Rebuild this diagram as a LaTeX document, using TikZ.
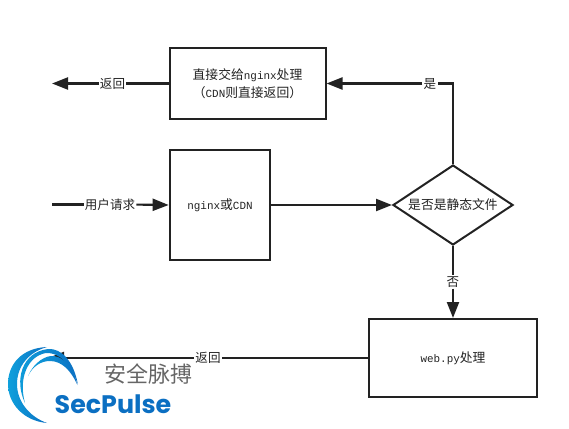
\documentclass[tikz,border=0pt]{standalone}
\usepackage{fontspec}
\setmainfont{Liberation Mono}
\newfontfamily\cjk{Noto Sans CJK SC}
\newfontfamily\logofont{Poppins}
\usetikzlibrary{arrows.meta,shapes.geometric,calc}
\definecolor{ink}{HTML}{222222}
\definecolor{logoblue}{HTML}{0B6FC2}
\definecolor{logocyan}{HTML}{0FA0DC}
\newcommand{\zh}[1]{{\cjk\fontsize{9.6}{12}\selectfont #1}}
\tikzset{
  flowbox/.style={draw=ink,line width=1.5pt,fill=white,inner sep=0pt,font=\fontsize{8.2}{13.5}\selectfont,text=ink,align=center},
  lbl/.style={fill=white,inner sep=0.8pt,font=\cjk\fontsize{9.4}{10}\selectfont,text=ink},
  link/.style={draw=ink,line width=1.6pt},
  heavylink/.style={draw=ink,line width=2.4pt},
  arrowed/.style={link,-{Triangle[length=12pt,width=9pt,fill=ink]}}
}
\begin{document}
\begin{tikzpicture}[x=0.75pt,y=-0.75pt]
\useasboundingbox (0,0) rectangle (569,429);
\node[flowbox,minimum width=117pt,minimum height=53.5pt] (direct) at (247.5,83.5) {\zh{直接交给}nginx\zh{处理}\\\zh{（}CDN\zh{则直接返回）}};
\node[flowbox,minimum width=75.5pt,minimum height=83pt] (entry) at (220,205) {nginx\zh{或}CDN};
\node[flowbox,diamond,aspect=1.5,minimum width=90pt,minimum height=60pt] (check) at (453,205) {\zh{是否是静态文件}};
\node[flowbox,minimum width=126.5pt,minimum height=58.5pt] (web) at (453,358) {web.py\zh{处理}};
\coordinate (retA) at (52,83.5);
\coordinate (inA) at (52,204.6);
\coordinate (retB) at (48,358);
\coordinate (corner) at (check.north |- direct.east);
\node[lbl] (retAl) at (112.5,83.5) {返回};
\node[lbl] (inl) at (110,204.6) {用户请求};
\node[lbl] (yes) at (430,83.5) {是};
\node[lbl] (no) at (453,282) {否};
\node[lbl] (retBl) at (208,358) {返回};
\draw[heavylink] (direct.west) -- (retAl.east);
\draw[arrowed] (retAl.west) -- (retA);
\draw[heavylink] (inA) -- (inl.west);
\draw[arrowed] (inl.east) -- (entry.west);
\draw[arrowed] (entry.east) -- (check.west);
\draw[link] (check.north) -- (corner) -- (yes.east);
\draw[arrowed] (yes.west) -- (direct.east);
\draw[link] (check.south) -- (no.north);
\draw[arrowed] (no.south) -- (web.north);
\draw[link] (web.west) -- (retBl.east);
\draw[arrowed] (retBl.west) -- (retB);
% logo
\shade[left color=logocyan,right color=logoblue] (47,347) .. controls (22,348) and (8,364) .. (8,384) .. controls (8,404) and (24,421) .. (47,423) .. controls (30,417) and (17,402) .. (17,384) .. controls (17,366) and (29,352) .. (47,347) -- cycle;
\shade[left color=logocyan,right color=logoblue] (25,403) .. controls (14,380) and (22,352) .. (48,349) .. controls (62,348) and (74,362) .. (78,385) .. controls (72,366) and (60,352) .. (46,353) .. controls (28,356) and (18,378) .. (25,403) -- cycle;
\shade[left color=logocyan,right color=logoblue] (28,376) .. controls (34,362) and (46,355) .. (54,356) .. controls (65,358) and (74,368) .. (77,384) .. controls (71,371) and (62,361) .. (50,361) .. controls (41,361) and (33,366) .. (28,376) -- cycle;
\node[inner sep=0pt,text=black!60,font=\cjk\fontsize{16.5}{18}\selectfont] (cn) at (148,374) {安全脉搏};
\node[inner sep=0pt,text=logoblue,font=\logofont\bfseries\fontsize{19}{20}\selectfont] (en) at (113,404) {SecPulse};
\end{tikzpicture}
\end{document}
